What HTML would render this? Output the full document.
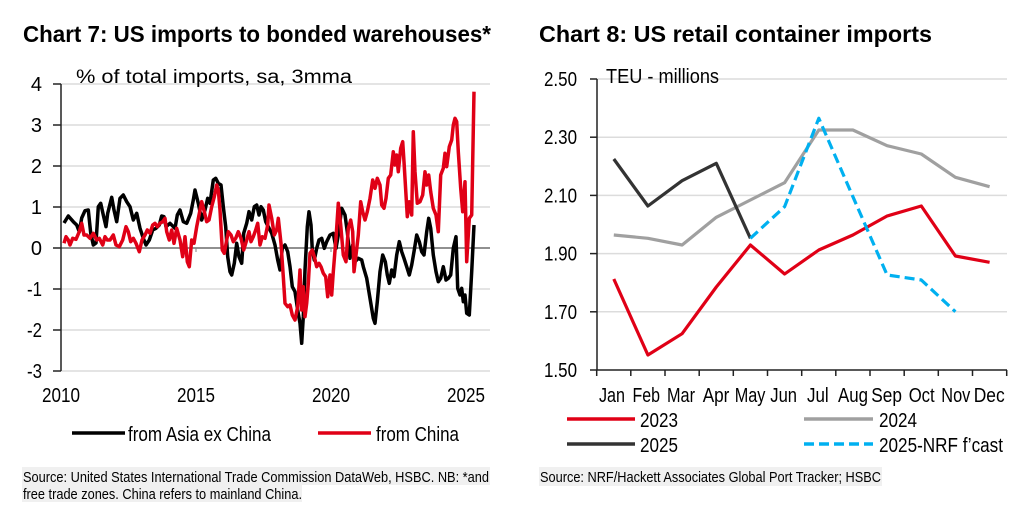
<!DOCTYPE html>
<html>
<head>
<meta charset="utf-8">
<style>
html,body{margin:0;padding:0;background:#fff;}
svg{display:block;}
text{font-family:"Liberation Sans",Arial,sans-serif;fill:#000;}
</style>
</head>
<body>
<svg width="1024" height="519" viewBox="0 0 1024 519" xmlns="http://www.w3.org/2000/svg">
<rect x="0" y="0" width="1024" height="519" fill="#fff"/>

<!-- Titles -->
<text x="23" y="42" font-size="23" font-weight="bold" textLength="468" lengthAdjust="spacingAndGlyphs">Chart 7: US imports to bonded warehouses*</text>
<text x="539" y="42" font-size="23" font-weight="bold" textLength="393" lengthAdjust="spacingAndGlyphs">Chart 8: US retail container imports</text>

<!-- ============ LEFT CHART ============ -->
<g stroke="#dcdcdc" stroke-width="1.5">
  <line x1="61" y1="84" x2="490" y2="84"/>
  <line x1="61" y1="125" x2="490" y2="125"/>
  <line x1="61" y1="166" x2="490" y2="166"/>
  <line x1="61" y1="207" x2="490" y2="207"/>
  <line x1="61" y1="289" x2="490" y2="289"/>
  <line x1="61" y1="330" x2="490" y2="330"/>
  <line x1="61" y1="371" x2="490" y2="371"/>
</g>
<line x1="61" y1="248" x2="490" y2="248" stroke="#808080" stroke-width="1.8"/>
<g stroke="#808080" stroke-width="1">
  <line x1="196" y1="248" x2="196" y2="252"/>
  <line x1="331" y1="248" x2="331" y2="252"/>
  <line x1="466" y1="248" x2="466" y2="252"/>
</g>
<g stroke="#222" stroke-width="1.5">
  <line x1="61" y1="84" x2="61" y2="371"/>
  <line x1="53" y1="84" x2="61" y2="84"/>
  <line x1="53" y1="125" x2="61" y2="125"/>
  <line x1="53" y1="166" x2="61" y2="166"/>
  <line x1="53" y1="207" x2="61" y2="207"/>
  <line x1="53" y1="248" x2="61" y2="248"/>
  <line x1="53" y1="289" x2="61" y2="289"/>
  <line x1="53" y1="330" x2="61" y2="330"/>
  <line x1="53" y1="371" x2="61" y2="371"/>
</g>
<g font-size="20" text-anchor="end">
  <text x="42" y="91">4</text>
  <text x="42" y="132">3</text>
  <text x="42" y="173">2</text>
  <text x="42" y="214">1</text>
  <text x="42" y="255">0</text>
  <text x="42" y="296" textLength="15" lengthAdjust="spacingAndGlyphs">-1</text>
  <text x="42" y="337" textLength="15" lengthAdjust="spacingAndGlyphs">-2</text>
  <text x="42" y="378" textLength="15" lengthAdjust="spacingAndGlyphs">-3</text>
</g>
<g font-size="20">
  <text x="42" y="402" textLength="38" lengthAdjust="spacingAndGlyphs">2010</text>
  <text x="177" y="402" textLength="38" lengthAdjust="spacingAndGlyphs">2015</text>
  <text x="312" y="402" textLength="38" lengthAdjust="spacingAndGlyphs">2020</text>
  <text x="447" y="402" textLength="38" lengthAdjust="spacingAndGlyphs">2025</text>
</g>
<text x="76" y="83" font-size="19" textLength="276" lengthAdjust="spacingAndGlyphs">% of total imports, sa, 3mma</text>

<!-- Asia ex China (black) -->
<polyline fill="none" stroke="#000" stroke-width="3.5" stroke-linejoin="round" points="64,223 68.3,216 73.3,221.7 76.7,225 79.3,231.7 81.7,218 85,210.7 88.3,210 90.7,233 93.3,245 96,243 98.3,206.7 100.7,203.3 103.3,215 106,226.7 107.7,213.3 111.7,197.3 114,210 116.7,221.7 120,198.3 123.3,195 126.7,201.7 130,206.7 133.3,220 136.7,213.3 140,228.3 143.3,238.3 146,245 149.3,240 152.7,230 156,228.3 159.3,225 161.7,216 164,216.7 166,226.7 170,223.3 175,228.3 177.3,215 180,210 183.3,221.7 186.7,223.3 190.7,213.3 193.3,200 195,190 198.3,203.3 201.7,220 205,210 207.7,198.3 210,203.3 213.3,180 215.7,178.3 218.3,183.3 221,185 223.3,206.7 225.7,226.7 227.7,256.7 230,271.7 231.7,275 234.3,263.3 236.7,243.3 239,256.7 241.7,263.3 243.7,233.3 246.7,223.3 249,211.7 251.7,220 254.3,206.7 256.7,205 259,215 261,206.7 263.3,210 265.7,221.7 268.3,226.7 271.7,233.3 275,245 277.7,260 280,270 282.3,248.3 285,245 287.7,251.7 290,266.7 292.3,286.7 295,291.7 297.7,310 300,323.3 301.7,343.3 303.3,316.7 305,270 307.3,226.7 309,211.7 311,225 312.3,250 314.3,260 316.7,248.3 319,240 321.7,238.3 324.3,248.3 326.7,241.7 330,235 333.3,233.3 336,248.3 338.3,235 341.7,208.3 345,215 347.3,231.7 350,258.3 352.7,245 355,261.7 358.3,258.3 361.7,260 363.3,266.7 366.7,278.3 370,298.3 373.3,318.3 375,323.3 377.3,301.7 380,271.7 382.7,255 385.3,261.7 387.3,275 389.3,283.3 391.7,270 394,276.7 396.7,255 399.3,241.7 401.7,251.7 404,258.3 406.7,266.7 409.3,275 411.7,265 414,251.7 416.7,235 419.3,241.7 421.7,251.7 424,255 426.7,231.7 428.7,218.3 430.7,228.3 433.3,255 436,271.7 438.3,281.7 440.7,278.3 443.3,266.7 446,280 448.3,278.3 450.7,275 453.3,248.3 456,236.7 457.7,288.3 460,295 461.7,288.3 463.3,301.7 465,295 466.7,313.3 469.3,315 471.7,271.7 474,225"/>

<!-- China (red) -->
<polyline fill="none" stroke="#e00016" stroke-width="3.5" stroke-linejoin="round" points="64,243.3 66,236.7 68.3,240 70,245 72.7,238.3 76,239.3 79.3,231.7 81.7,223.3 84,235 86.7,235 90,238.3 93.3,233.3 96.7,240 99.3,238.3 102.7,245 105,236.7 107.3,240 110,240 113.3,235 116,245 119.3,246.7 122.7,240 126,226.7 128.3,231.7 130.7,241.7 133.3,238.3 136,243.3 139.3,251.7 142,240 145,235 147.3,230 150,233.3 152.7,225 155,223.3 157.3,226.7 160,223.3 162.7,221.7 165,218.3 166.7,231.7 169.3,240 171.7,230 174,243.3 176.7,228.3 180,240 182.7,256.7 185,236.7 187.3,261.7 189.3,266.7 191.7,240 194,243.3 196.7,226.7 200,210 201.7,201.7 204.3,211.7 206.7,221.7 209,220 211.7,206.7 214.3,196.7 216.7,185 218.3,190 220,210 222.3,250 224.3,253.3 226.7,240 228.3,231.7 231,235 233.3,241.7 235.7,238.3 238.3,231.7 241,238.3 243.7,250 246.7,240 249,231.7 251,241.7 253.3,236.7 255.7,230 257.7,223.3 260,245 262.3,236.7 265,238.3 267.7,225 269,205 271.7,218.3 274.3,235 276.7,230 278.3,218.3 281,243.3 283.3,276.7 285,303.3 287.7,306.7 290,305 292.3,315 295,320 297.7,306.7 300,270 301.7,310 303.3,286.7 305,316.7 306.7,303.3 308.3,283.3 310,253.3 312.3,250 314.3,256.7 316.7,266.7 319,263.3 321,266.7 323.3,273.3 325.7,276.7 327.7,296.7 330,275 331.7,295 333.3,271.7 336,238.3 338.3,203.3 340.7,225 343.3,255 346,261.7 348.3,228.3 350.7,220 352.7,231.7 354,271.7 356,255 358.3,235 360.7,201.7 362.7,211.7 365,220 367.3,211.7 370,198.3 372.7,180 375,188.3 377.3,178.3 380,185 381.7,205 384,208.3 386,198.3 388.3,178.3 390.7,175 393.3,151.7 395,165 396.7,155 398.3,171.7 400.7,148.3 402.7,141.7 404,161.7 406,195 407.3,216.7 409.3,201.7 411.7,215 413.3,131.7 415,171.7 417.3,203.3 420,201.7 422.7,195 425,171.7 426.7,185 428.7,175 430.7,191.7 433.3,208.3 436,215 438.3,231.7 440.7,175 443.3,168.3 445,153.3 446.7,166.7 449.3,146.7 451.7,140 453.3,125 455,118.3 456.7,121.7 458.3,151.7 460.7,188.3 462.7,211.7 465,181.7 466.7,261.7 469.3,218.3 471.7,215 474,91.7"/>

<!-- Left legend -->
<line x1="72" y1="433" x2="125" y2="433" stroke="#000" stroke-width="3.5"/>
<text x="128" y="441" font-size="20" textLength="143" lengthAdjust="spacingAndGlyphs">from Asia ex China</text>
<line x1="318" y1="433" x2="371" y2="433" stroke="#e00016" stroke-width="3.5"/>
<text x="376" y="441" font-size="20" textLength="83" lengthAdjust="spacingAndGlyphs">from China</text>

<!-- Left source -->
<rect x="22" y="467" width="468" height="18" fill="#f0f0f0"/>
<rect x="22" y="485" width="280" height="17" fill="#f0f0f0"/>
<text x="23" y="482" font-size="15" textLength="466" lengthAdjust="spacingAndGlyphs">Source: United States International Trade Commission DataWeb, HSBC. NB: *and</text>
<text x="23" y="499" font-size="15" textLength="279" lengthAdjust="spacingAndGlyphs">free trade zones. China refers to mainland China.</text>

<!-- ============ RIGHT CHART ============ -->
<g stroke="#dcdcdc" stroke-width="1.5">
  <line x1="597" y1="79" x2="1007" y2="79"/>
  <line x1="597" y1="137.2" x2="1007" y2="137.2"/>
  <line x1="597" y1="195.4" x2="1007" y2="195.4"/>
  <line x1="597" y1="253.6" x2="1007" y2="253.6"/>
  <line x1="597" y1="311.8" x2="1007" y2="311.8"/>
</g>
<g stroke="#222" stroke-width="1.5">
  <line x1="597" y1="79" x2="597" y2="370"/>
  <line x1="597" y1="370" x2="1007" y2="370"/>
  <line x1="590" y1="79" x2="597" y2="79"/>
  <line x1="590" y1="137.2" x2="597" y2="137.2"/>
  <line x1="590" y1="195.4" x2="597" y2="195.4"/>
  <line x1="590" y1="253.6" x2="597" y2="253.6"/>
  <line x1="590" y1="311.8" x2="597" y2="311.8"/>
  <line x1="590" y1="370" x2="597" y2="370"/>
  <line x1="596.7" y1="370" x2="596.7" y2="376"/>
  <line x1="630.8" y1="370" x2="630.8" y2="376"/>
  <line x1="665" y1="370" x2="665" y2="376"/>
  <line x1="699.2" y1="370" x2="699.2" y2="376"/>
  <line x1="733.3" y1="370" x2="733.3" y2="376"/>
  <line x1="767.5" y1="370" x2="767.5" y2="376"/>
  <line x1="801.7" y1="370" x2="801.7" y2="376"/>
  <line x1="835.8" y1="370" x2="835.8" y2="376"/>
  <line x1="870" y1="370" x2="870" y2="376"/>
  <line x1="904.2" y1="370" x2="904.2" y2="376"/>
  <line x1="938.3" y1="370" x2="938.3" y2="376"/>
  <line x1="972.5" y1="370" x2="972.5" y2="376"/>
  <line x1="1006.7" y1="370" x2="1006.7" y2="376"/>
</g>
<g font-size="20" text-anchor="end">
  <text x="577" y="86" textLength="33" lengthAdjust="spacingAndGlyphs">2.50</text>
  <text x="577" y="144.2" textLength="33" lengthAdjust="spacingAndGlyphs">2.30</text>
  <text x="577" y="202.4" textLength="33" lengthAdjust="spacingAndGlyphs">2.10</text>
  <text x="577" y="260.6" textLength="33" lengthAdjust="spacingAndGlyphs">1.90</text>
  <text x="577" y="318.8" textLength="33" lengthAdjust="spacingAndGlyphs">1.70</text>
  <text x="577" y="377" textLength="33" lengthAdjust="spacingAndGlyphs">1.50</text>
</g>
<text x="606" y="83" font-size="20" textLength="113" lengthAdjust="spacingAndGlyphs">TEU - millions</text>
<g font-size="20">
  <text x="599" y="402" textLength="26" lengthAdjust="spacingAndGlyphs">Jan</text>
  <text x="632.5" y="402" textLength="27.5" lengthAdjust="spacingAndGlyphs">Feb</text>
  <text x="667" y="402" textLength="28" lengthAdjust="spacingAndGlyphs">Mar</text>
  <text x="702.7" y="402" textLength="26.7" lengthAdjust="spacingAndGlyphs">Apr</text>
  <text x="734.7" y="402" textLength="30.7" lengthAdjust="spacingAndGlyphs">May</text>
  <text x="770.3" y="402" textLength="26.7" lengthAdjust="spacingAndGlyphs">Jun</text>
  <text x="807" y="402" textLength="21.7" lengthAdjust="spacingAndGlyphs">Jul</text>
  <text x="838" y="402" textLength="30" lengthAdjust="spacingAndGlyphs">Aug</text>
  <text x="871.3" y="402" textLength="30.7" lengthAdjust="spacingAndGlyphs">Sep</text>
  <text x="908.7" y="402" textLength="26" lengthAdjust="spacingAndGlyphs">Oct</text>
  <text x="941.3" y="402" textLength="29" lengthAdjust="spacingAndGlyphs">Nov</text>
  <text x="973.7" y="402" textLength="31" lengthAdjust="spacingAndGlyphs">Dec</text>
</g>

<!-- 2024 gray -->
<polyline fill="none" stroke="#a0a0a0" stroke-width="3.2" stroke-linejoin="round" points="613.8,235 647.9,238.3 682.1,245 716.3,217.3 750.4,200 784.6,182.7 818.8,130 852.9,130 887.1,145.7 921.3,154 955.4,177.3 989.6,186.7"/>
<!-- 2023 red -->
<polyline fill="none" stroke="#e00016" stroke-width="3.2" stroke-linejoin="round" points="613.8,279 647.9,355 682.1,333.7 716.3,287 750.4,245 784.6,274 818.8,250 852.9,235 887.1,216 921.3,206 955.4,256 989.6,262.3"/>
<!-- 2025 dark -->
<polyline fill="none" stroke="#333" stroke-width="3.2" stroke-linejoin="round" points="613.8,159 647.9,206 682.1,180.7 716.3,163.3 750.4,238.3"/>
<!-- 2025 NRF forecast dashed -->
<polyline fill="none" stroke="#00b0f0" stroke-width="3.2" stroke-dasharray="10,5" stroke-linejoin="round" points="750.4,238.3 784.6,206.7 818.8,118.3 852.9,196.7 887.1,275 921.3,280 955.4,311.7"/>

<!-- Right legend -->
<line x1="567" y1="419" x2="635" y2="419" stroke="#e00016" stroke-width="3.5"/>
<text x="640" y="427" font-size="20" textLength="38" lengthAdjust="spacingAndGlyphs">2023</text>
<line x1="804" y1="419" x2="873" y2="419" stroke="#a0a0a0" stroke-width="3.5"/>
<text x="879" y="427" font-size="20" textLength="38" lengthAdjust="spacingAndGlyphs">2024</text>
<line x1="567" y1="444" x2="635" y2="444" stroke="#333" stroke-width="3.5"/>
<text x="640" y="452" font-size="20" textLength="38" lengthAdjust="spacingAndGlyphs">2025</text>
<line x1="804" y1="444" x2="873" y2="444" stroke="#00b0f0" stroke-width="3.5" stroke-dasharray="10,5"/>
<text x="879" y="452" font-size="20" textLength="124" lengthAdjust="spacingAndGlyphs">2025-NRF f’cast</text>

<!-- Right source -->
<rect x="539" y="467" width="343" height="19" fill="#f0f0f0"/>
<text x="540" y="482" font-size="15" textLength="341" lengthAdjust="spacingAndGlyphs">Source: NRF/Hackett Associates Global Port Tracker; HSBC</text>
</svg>
</body>
</html>
